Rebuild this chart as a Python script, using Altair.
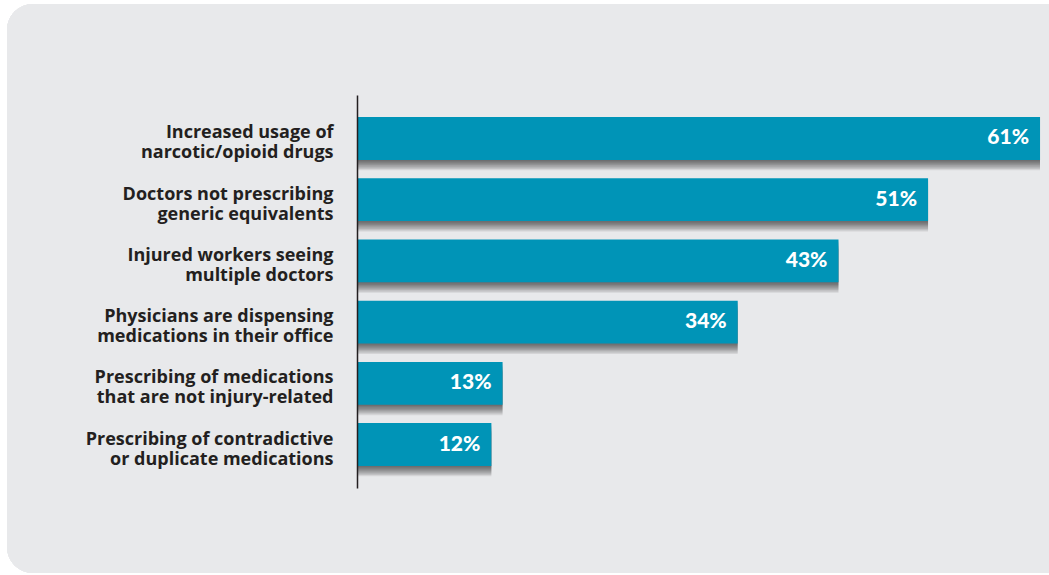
import altair as alt
import pandas as pd

categories = [
    "Increased usage of|narcotic/opioid drugs",
    "Doctors not prescribing|generic equivalents",
    "Injured workers seeing|multiple doctors",
    "Physicians are dispensing|medications in their office",
    "Prescribing of medications |that are not injury-related",
    "Prescribing of contradictive|or duplicate medications",
]
values = [61, 51, 43, 34, 13, 12]
value_labels = ["61%", "51%", "43%", "34%", "13%", "12%"]

df = pd.DataFrame({"cat": categories, "val": values, "lab": value_labels})

BAR = "#0094B7"
TEXT = "#231F20"
PANEL = "#E8E9EB"

y_enc = alt.Y(
    "cat:N",
    sort=categories,
    scale=alt.Scale(paddingInner=0.3, paddingOuter=0.36),
    axis=alt.Axis(
        title=None,
        labelExpr="split(datum.label, '|')",
        labelFont="Open Sans",
        labelFontWeight="bold",
        labelFontSize=18,
        labelColor=TEXT,
        labelLineHeight=20,
        labelPadding=24,
        labelOffset=-5,
        labelLimit=400,
        ticks=False,
        domain=True,
        domainColor=TEXT,
        domainWidth=1.5,
        grid=False,
        zindex=1,
    ),
)
x_enc = alt.X("val:Q", scale=alt.Scale(domain=[0, 61.8], nice=False), axis=None)

base = alt.Chart(df)

panel = base.mark_rect(color=PANEL, cornerRadius=26).encode(
    x=alt.value(-350), x2=alt.value(720), y=alt.value(-91), y2=alt.value(478)
)

shadows = [
    base.mark_bar(color="#000000", opacity=0.085, yOffset=1.3 * k, x2Offset=-1.0 * k).encode(
        y=y_enc, x=x_enc
    )
    for k in range(1, 9)
]

bars = base.mark_bar(color=BAR).encode(y=y_enc, x=x_enc)

texts = base.mark_text(
    align="right", baseline="middle", dx=-11, color="white",
    font="Lato", fontWeight=900, fontSize=21,
).encode(y=y_enc, x=x_enc, text="lab:N")

chart = alt.layer(panel, *shadows, bars, texts).properties(
    width=692,
    height=393,
    padding={"left": 357, "top": 95, "right": 0, "bottom": 87},
    autosize="none",
    background="white",
).configure_view(stroke=None)

chart.save("out.html", embed_options={"renderer": "svg", "actions": False})
